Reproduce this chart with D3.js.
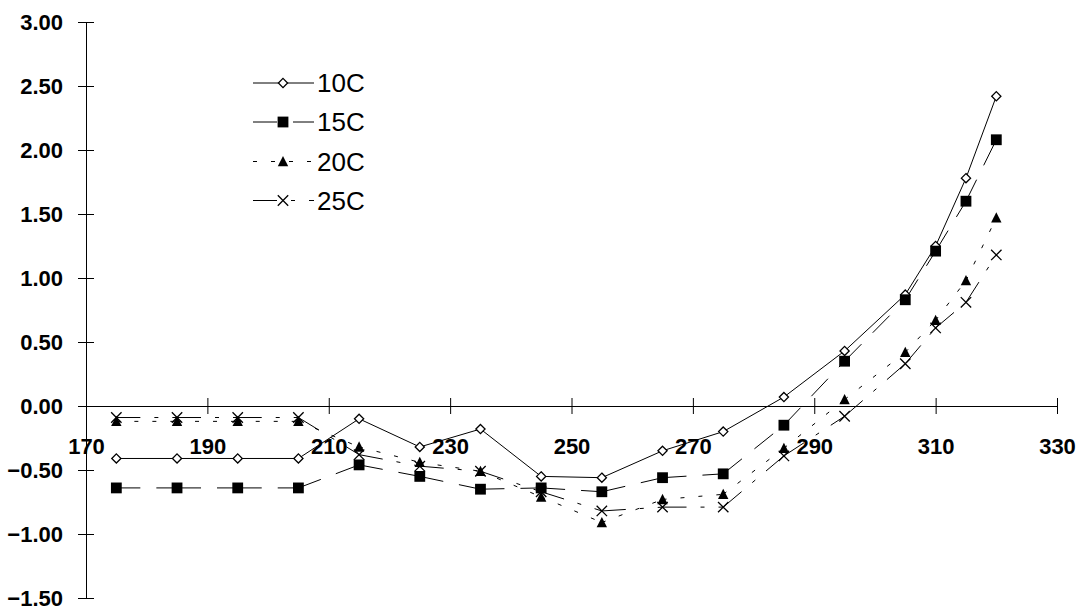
<!DOCTYPE html>
<html><head><meta charset="utf-8">
<script src="https://cdn.jsdelivr.net/npm/d3@7"></script>
<style>
html,body{margin:0;padding:0;background:#fff;}
svg{display:block;}
</style></head>
<body>
<svg id="chart" width="1085" height="612"></svg>
<script>
const xValues = [175,185,195,205,215,225,235,245,255,265,275,285,295,305,310,315,320];
const seriesNames = ["10C","15C","20C","25C"];
const s10 = [-0.41,-0.41,-0.41,-0.41,-0.10,-0.32,-0.18,-0.55,-0.56,-0.35,-0.20,0.07,0.43,0.87,1.25,1.78,2.42];
const s15 = [-0.64,-0.64,-0.64,-0.64,-0.46,-0.55,-0.65,-0.64,-0.67,-0.56,-0.53,-0.15,0.35,0.83,1.21,1.60,2.08];
const s20 = [-0.12,-0.12,-0.12,-0.12,-0.32,-0.44,-0.51,-0.71,-0.91,-0.73,-0.69,-0.33,0.05,0.42,0.67,0.98,1.47];
const s25 = [-0.09,-0.09,-0.09,-0.09,-0.38,-0.47,-0.51,-0.67,-0.82,-0.79,-0.79,-0.39,-0.08,0.33,0.61,0.81,1.18];
const xTicks = [170,190,210,230,250,270,290,310,330];
const yTicks = [-1.5,-1.0,-0.5,0,0.5,1.0,1.5,2.0,2.5,3.0];

const seriesValues = [s10,s15,s20,s25];
const dashes = [null, "24,16", "4,14", "24,14,4,14"];
const markers = ["diamond","square","triangle","cross"];

const svg = d3.select("#chart");
const x = d3.scaleLinear().domain([170,330]).range([86,1057]);
const y = d3.scaleLinear().domain([-1.5,3]).range([598,22]);

// Y axis
const yAxis = svg.append("g").attr("transform",`translate(${x(170)},0)`)
  .call(d3.axisLeft(y).tickValues(yTicks).tickFormat(d3.format(".2f")).tickSizeInner(8).tickSizeOuter(0).tickPadding(15));
yAxis.selectAll(".tick line").attr("x1",8).attr("x2",-8).attr("stroke","#000");
yAxis.select(".domain").attr("stroke","#000");
yAxis.selectAll("text").attr("font-family","'Liberation Sans', Arial, sans-serif").attr("font-weight","bold").attr("font-size",22).attr("fill","#000");

// X axis at y=0
const xAxis = svg.append("g").attr("transform",`translate(0,${y(0)})`)
  .call(d3.axisBottom(x).tickValues(xTicks).tickFormat(d3.format("d")).tickSizeInner(8).tickSizeOuter(0).tickPadding(24));
xAxis.selectAll(".tick line").attr("y1",-8).attr("y2",8).attr("stroke","#000");
xAxis.select(".domain").attr("stroke","#000");
xAxis.selectAll("text").attr("font-family","'Liberation Sans', Arial, sans-serif").attr("font-weight","bold").attr("font-size",22).attr("fill","#000");

const line = d3.line().x(d=>x(d[0])).y(d=>y(d[1]));

function drawMarker(g, type, cx, cy){
  if(type==="diamond"){
    const r=4.6;
    g.append("path").attr("d",`M${cx},${cy-r}L${cx+r},${cy}L${cx},${cy+r}L${cx-r},${cy}Z`)
      .attr("fill","#fff").attr("stroke","#000").attr("stroke-width",1.3);
  } else if(type==="square"){
    const h=5.4;
    g.append("rect").attr("x",cx-h).attr("y",cy-h).attr("width",2*h).attr("height",2*h).attr("fill","#000");
  } else if(type==="triangle"){
    const w=5.2, hh=5.6;
    g.append("path").attr("d",`M${cx},${cy-hh}L${cx+w},${cy+hh*0.85}L${cx-w},${cy+hh*0.85}Z`).attr("fill","#000");
  } else {
    const r=5.2;
    g.append("path").attr("d",`M${cx-r},${cy-r}L${cx+r},${cy+r}M${cx+r},${cy-r}L${cx-r},${cy+r}`)
      .attr("stroke","#000").attr("stroke-width",1.3).attr("fill","none");
  }
}

seriesValues.forEach((vals,i)=>{
  const pts = xValues.map((xv,k)=>[xv, vals[k]]);
  const g = svg.append("g");
  d3.pairs(pts).forEach(seg=>{
    g.append("path").attr("d", line(seg)).attr("fill","none").attr("stroke","#000")
      .attr("stroke-width",1).attr("stroke-dasharray", dashes[i]);
  });
});
seriesValues.forEach((vals,i)=>{
  const g = svg.append("g");
  xValues.forEach((xv,k)=> drawMarker(g, markers[i], x(xv), y(vals[k])));
});

// Legend
const legRows = [83,122,161.5,200.5];
const leg = svg.append("g");
seriesNames.forEach((name,i)=>{
  leg.append("line").attr("x1",253).attr("x2",314).attr("y1",legRows[i]).attr("y2",legRows[i])
    .attr("stroke","#000").attr("stroke-width",1).attr("stroke-dasharray",dashes[i]);
  drawMarker(leg, markers[i], 283, legRows[i]);
  leg.append("text").attr("x",317).attr("y",legRows[i]).attr("dy","0.36em")
    .attr("font-family","'Liberation Sans', Arial, sans-serif").attr("font-size",26).attr("fill","#000").text(name);
});
</script>
</body></html>
